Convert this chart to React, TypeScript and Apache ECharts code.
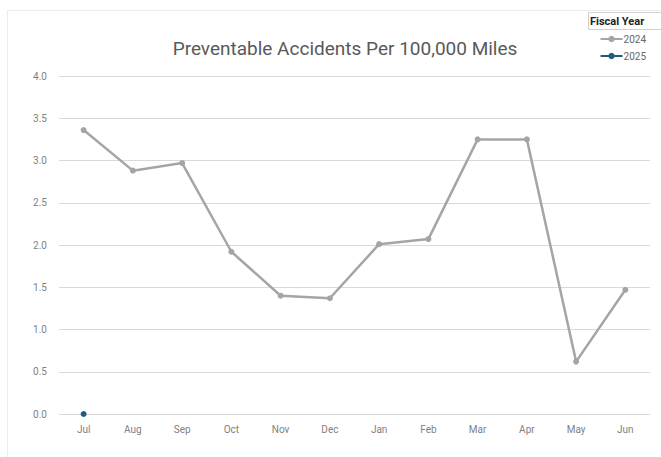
import React, { useEffect, useRef } from "react";
import * as echarts from "echarts";

const months = ["Jul", "Aug", "Sep", "Oct", "Nov", "Dec", "Jan", "Feb", "Mar", "Apr", "May", "Jun"];
const fy2024 = [3.36, 2.88, 2.97, 1.92, 1.40, 1.37, 2.01, 2.07, 3.25, 3.25, 0.62, 1.47];
const fy2025 = [0, null, null, null, null, null, null, null, null, null, null, null];
const yTicks = { min: 0, max: 4, interval: 0.5 };

export default function App() {
  const ref = useRef<HTMLDivElement>(null);
  useEffect(() => {
    document.body.style.margin = "0";
    const chart = echarts.init(ref.current!, null, { renderer: "svg" });
    const font = "Roboto, 'Noto Sans', sans-serif";
    chart.setOption({
      animation: false,
      backgroundColor: "#ffffff",
      title: {
        text: "Preventable Accidents Per 100,000 Miles",
        left: 340,
        top: 34,
        textAlign: "center",
        textStyle: { fontFamily: font, fontSize: 19, fontWeight: "normal", color: "#595959" },
      },
      legend: {
        orient: "vertical",
        right: 10,
        top: 29,
        itemWidth: 22,
        itemHeight: 8,
        itemGap: 7,
        textStyle: { fontFamily: font, fontSize: 10, color: "#666666", padding: [0, 0, 0, -4] },
        data: ["2024", "2025"],
      },
      graphic: [
        {
          type: "rect",
          shape: { x: 7.5, y: 10.5, width: 700, height: 500 },
          style: { fill: "none", stroke: "#ececec", lineWidth: 1 },
          silent: true,
        },
        {
          type: "rect",
          shape: { x: 588.5, y: 12.5, width: 80, height: 17 },
          style: { fill: "#ffffff", stroke: "#d0d0d0", lineWidth: 1 },
          silent: true,
        },
        {
          type: "text",
          x: 590,
          y: 21,
          style: { text: "Fiscal Year", fontFamily: font, fontSize: 11, fontWeight: "bold", fill: "#222222", verticalAlign: "middle" },
          silent: true,
        },
      ],
      grid: { left: 59, right: 11, top: 76, bottom: 43 },
      xAxis: {
        type: "category",
        data: months,
        boundaryGap: true,
        axisLine: { show: false },
        axisTick: { show: false },
        axisLabel: { fontFamily: font, fontSize: 10, color: "#7f7f7f", margin: 10 },
      },
      yAxis: {
        type: "value",
        min: yTicks.min,
        max: yTicks.max,
        interval: yTicks.interval,
        axisLine: { show: false },
        axisTick: { show: false },
        axisLabel: { fontFamily: font, fontSize: 10, color: "#7f7f7f", margin: 12, formatter: (v: number) => v.toFixed(1) },
        splitLine: { lineStyle: { color: "#d9d9d9", width: 1 } },
      },
      series: [
        {
          name: "2024",
          type: "line",
          data: fy2024,
          color: "#a5a5a5",
          symbol: "circle",
          symbolSize: 6,
          lineStyle: { width: 2.5, color: "#a5a5a5" },
          itemStyle: { color: "#a5a5a5" },
        },
        {
          name: "2025",
          type: "line",
          data: fy2025,
          color: "#1b5e82",
          symbol: "circle",
          symbolSize: 6,
          lineStyle: { width: 2.5, color: "#1b5e82" },
          itemStyle: { color: "#1b5e82" },
        },
      ],
    });
    return () => chart.dispose();
  }, []);
  return <div ref={ref} style={{ width: 661, height: 457 }} />;
}
